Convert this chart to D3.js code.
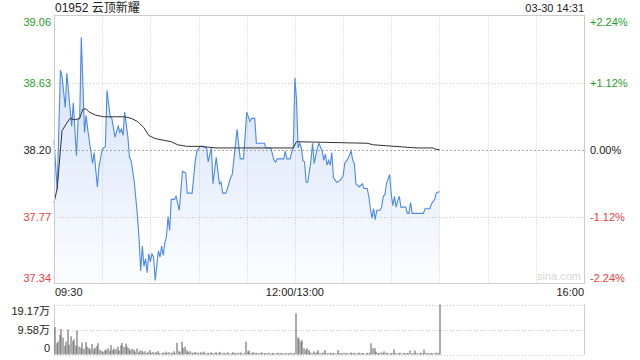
<!DOCTYPE html>
<html>
<head>
<meta charset="utf-8">
<script src="https://cdn.jsdelivr.net/npm/d3@7"></script>
<style>
  body { margin: 0; background: #fff; }
  text { font-family: "Liberation Sans", Arial, "Noto Sans CJK SC", sans-serif; font-size: 11px; }
</style>
</head>
<body>
<div id="chart"></div>
<script>
var svgWidth = 640;
var svgHeight = 360;

// stock info
var stockTitle = "01952 云顶新耀";
var stampText = "03-30 14:31";
var prevClose = 38.20;

// price axis labels
var priceTicks = [39.06, 38.63, 38.20, 37.77, 37.34];
var pctTicks = ["+2.24%", "+1.12%", "0.00%", "-1.12%", "-2.24%"];
var timeLabels = ["09:30", "12:00/13:00", "16:00"];
var timeLabelMinutes = [0, 150, 330];
var volTicks = [19.17, 9.58, 0];
var volTickLabels = ["19.17万", "9.58万", "0"];

// price line, minute index from 09:30 (lunch break removed)
var priceMinutes = [0, 2, 4, 5, 7, 8, 11, 12, 14, 15, 16, 17, 19, 20, 21, 24, 25, 27, 28, 30,
  32, 33, 35, 36, 38, 40, 41, 42, 43, 44, 46, 47, 48, 50, 52, 53, 54, 55, 56, 57,
  58, 59, 60, 61, 62, 63, 65, 66, 67, 68, 69, 70, 71, 72, 73, 75, 76, 78, 80, 82,
  83, 86, 88, 89, 91, 93, 95, 96, 98, 99, 101, 103, 104, 105, 107, 108, 110, 111, 113, 114,
  115, 116, 118, 120, 122, 123, 125, 126, 131, 132, 135, 137, 138, 139, 143, 144, 145, 147, 148, 149,
  150, 151, 152, 153, 154, 155, 156, 157, 158, 160, 161, 162, 164, 165, 167, 168, 169, 170, 171, 172,
  173, 174, 176, 178, 180, 181, 183, 185, 186, 187, 188, 190, 192, 193, 195, 196, 197, 198, 199, 200,
  201, 203, 204, 205, 206, 207, 209, 210, 211, 212, 213, 214, 215, 216, 219, 220, 221, 222, 223, 230,
  231, 234, 235, 237, 238, 240];
var prices = [38.26, 37.94, 38.71, 38.67, 38.47, 38.69, 38.35, 38.50, 38.16, 38.39, 38.40, 38.92, 38.31, 38.42, 38.33, 38.11, 38.18, 37.96, 38.09, 38.20,
  38.22, 38.58, 38.41, 38.40, 38.28, 38.35, 38.31, 38.33, 38.29, 38.44, 38.28, 38.15, 38.13, 37.99, 37.77, 37.62, 37.42, 37.58, 37.45, 37.50,
  37.41, 37.53, 37.48, 37.53, 37.51, 37.36, 37.55, 37.51, 37.58, 37.52, 37.60, 37.64, 37.77, 37.68, 37.88, 37.88, 37.90, 37.81, 38.06, 38.05,
  37.92, 37.92, 38.13, 38.19, 38.22, 38.22, 38.21, 38.12, 38.21, 37.98, 38.15, 37.98, 37.99, 37.92, 37.92, 37.95, 38.02, 38.04, 38.23, 38.33,
  38.23, 38.14, 38.14, 38.44, 38.38, 38.40, 38.40, 38.24, 38.24, 38.21, 38.21, 38.13, 38.12, 38.14, 38.14, 38.19, 38.14, 38.14, 38.18, 38.21,
  38.66, 38.52, 38.21, 38.24, 38.21, 38.13, 38.12, 37.99, 37.99, 38.13, 38.24, 38.11, 38.21, 38.24, 38.19, 38.13, 38.17, 38.10, 38.13, 38.10,
  38.18, 38.02, 37.99, 38.00, 38.03, 38.11, 38.14, 38.19, 38.13, 38.11, 37.98, 37.96, 37.98, 37.95, 37.95, 37.90, 37.82, 37.76, 37.82, 37.75,
  37.81, 37.81, 37.83, 37.90, 37.91, 37.98, 38.04, 37.91, 37.84, 37.90, 37.83, 37.87, 37.90, 37.83, 37.83, 37.79, 37.79, 37.86, 37.79, 37.79,
  37.82, 37.82, 37.85, 37.88, 37.92, 37.93];

// average price line
var avgMinutes = [0, 2, 5, 8, 10, 13, 16, 18, 20, 22, 26, 31, 39, 44, 48, 52, 56, 59, 63, 68,
  73, 77, 83, 91, 101, 149, 151, 195, 199, 226, 236, 238, 240];
var avgPrices = [37.86, 37.95, 38.32, 38.37, 38.40, 38.39, 38.40, 38.46, 38.46, 38.44, 38.42, 38.41, 38.41, 38.41, 38.40, 38.38, 38.34, 38.29, 38.27, 38.26,
  38.25, 38.23, 38.22, 38.22, 38.21, 38.21, 38.25, 38.24, 38.23, 38.21, 38.21, 38.20, 38.20];

// volume per minute, in 万 shares
var volumes = [10.5, 4.3, 5.0, 7.5, 9.8, 6.5, 3.3, 4.9, 9.6, 3.8,
  7.0, 5.2, 5.8, 3.4, 9.2, 3.0, 2.6, 4.6, 2.2, 4.8,
  3.0, 2.5, 2.0, 4.0, 2.0, 2.6, 3.2, 4.3, 1.8, 1.4,
  0.9, 1.6, 1.9, 2.4, 1.5, 3.6, 1.7, 2.3, 2.0, 3.0,
  1.6, 3.5, 4.4, 2.9, 4.2, 3.0, 2.4, 1.6, 2.2, 1.9,
  1.1, 2.3, 0.8, 1.6, 1.4, 0.8, 1.2, 0.6, 0.9, 1.7,
  0.7, 1.0, 0.5, 0.9, 1.3, 0.6, 0.4, 0.8, 0.5, 1.1,
  0.6, 0.9, 0.4, 0.7, 1.2, 0.5, 4.5, 1.3, 0.8, 4.9,
  2.5, 3.0, 1.6, 0.9, 1.2, 0.7, 0.6, 1.0, 0.5, 0.8,
  0.4, 0.9, 0.6, 1.1, 0.5, 0.7, 0.4, 0.8, 0.6, 0.5,
  0.9, 0.4, 0.6, 1.0, 0.5, 0.7, 0.3, 0.6, 0.8, 0.4,
  0.5, 0.9, 0.6, 0.4, 0.7, 0.5, 0.8, 0.4, 0.6, 4.9,
  1.2, 1.5, 0.6, 0.9, 0.5, 0.7, 0.4, 0.6, 0.5, 0.8,
  0.4, 0.6, 0.5, 0.7, 0.3, 0.5, 0.6, 0.4, 0.5, 0.7,
  0.4, 0.6, 0.5, 0.3, 0.6, 0.4, 0.5, 0.7, 0.4, 0.6,
  15.8, 6.6, 6.0, 4.9, 5.5, 2.4, 1.7, 2.4, 1.7, 0.8,
  0.6, 1.2, 0.5, 0.9, 1.7, 0.6, 0.4, 0.8, 1.7, 0.5,
  0.6, 0.4, 0.7, 0.5, 0.6, 0.4, 1.7, 0.5, 0.6, 0.4,
  0.7, 0.5, 0.6, 0.4, 0.8, 0.5, 0.6, 0.4, 0.5, 0.7,
  0.4, 0.6, 0.5, 0.3, 0.6, 0.5, 0.7, 4.3, 2.4, 2.4,
  1.0, 0.6, 0.5, 0.8, 0.6, 1.2, 0.5, 0.7, 0.4, 0.6,
  0.5, 2.0, 0.6, 0.4, 0.5, 0.7, 0.4, 0.6, 0.5, 0.4,
  0.6, 1.5, 0.4, 0.5, 1.5, 0.6, 0.4, 0.5, 0.7, 0.4,
  2.0, 0.6, 0.5, 0.4, 0.6, 0.5, 0.4, 0.7, 0.5, 0.6,
  19.17];

var plot = { left: 54, right: 584, top: 15.5, bottom: 283.5 };
var volPlot = { top: 304.5, bottom: 354.5 };
var green = "#1f9e1f";
var red = "#f03c3c";

var svg = d3.select("#chart")
    .append("svg")
    .attr("width", svgWidth)
    .attr("height", svgHeight);

// scales
var xScale = d3.scaleLinear().domain([0, 330]).range([plot.left, plot.right]);
var yScale = d3.scaleLinear().domain([37.34, 39.06]).range([plot.bottom, plot.top]);
var volScale = d3.scaleLinear().domain([0, 19.17]).range([volPlot.bottom, volPlot.top]);

var priceData = priceMinutes.map((m, i) => ({ m: m, p: prices[i] }));
var avgData = avgMinutes.map((m, i) => ({ m: m, p: avgPrices[i] }));

// gradient under the price line
var grad = svg.append("defs").append("linearGradient")
    .attr("id", "fillGrad")
    .attr("gradientUnits", "userSpaceOnUse")
    .attr("x1", 0).attr("y1", plot.top)
    .attr("x2", 0).attr("y2", plot.bottom);
grad.append("stop").attr("offset", "0%").attr("stop-color", "#5b8fe6").attr("stop-opacity", 0.3);
grad.append("stop").attr("offset", "100%").attr("stop-color", "#5b8fe6").attr("stop-opacity", 0.02);

// grid lines
var gridMinutes = d3.range(30, 330, 30);
svg.append("g").selectAll("line")
    .data(gridMinutes)
    .enter()
    .append("line")
    .attr("x1", d => Math.round(xScale(d)) + 0.5)
    .attr("x2", d => Math.round(xScale(d)) + 0.5)
    .attr("y1", plot.top)
    .attr("y2", plot.bottom)
    .attr("stroke", "#cfcfcf")
    .attr("stroke-dasharray", "1,2");

svg.append("g").selectAll("line")
    .data([priceTicks[1], priceTicks[3]])
    .enter()
    .append("line")
    .attr("x1", plot.left)
    .attr("x2", plot.right)
    .attr("y1", d => Math.round(yScale(d)) + 0.5)
    .attr("y2", d => Math.round(yScale(d)) + 0.5)
    .attr("stroke", "#cfcfcf")
    .attr("stroke-dasharray", "1,2");

// area + lines
var area = d3.area()
    .x(d => xScale(d.m))
    .y0(plot.bottom)
    .y1(d => yScale(d.p));
svg.append("path")
    .datum(priceData)
    .attr("d", area)
    .attr("fill", "url(#fillGrad)");

svg.append("line")
    .attr("x1", plot.left)
    .attr("x2", plot.right)
    .attr("y1", Math.round(yScale(prevClose)) + 0.5)
    .attr("y2", Math.round(yScale(prevClose)) + 0.5)
    .attr("stroke", "#a8a8a8")
    .attr("stroke-dasharray", "2,2");

var line = d3.line()
    .x(d => xScale(d.m))
    .y(d => yScale(d.p));
svg.append("path")
    .datum(priceData)
    .attr("d", line)
    .attr("fill", "none")
    .attr("stroke", "#4a88ee")
    .attr("stroke-width", 1.1);

svg.append("path")
    .datum(avgData)
    .attr("d", line)
    .attr("fill", "none")
    .attr("stroke", "#333")
    .attr("stroke-width", 1);

// frame
svg.append("rect")
    .attr("x", plot.left + 0.5)
    .attr("y", plot.top)
    .attr("width", plot.right - plot.left)
    .attr("height", plot.bottom - plot.top)
    .attr("fill", "none")
    .attr("stroke", "#cccccc");

svg.append("text")
    .attr("x", 581)
    .attr("y", 280)
    .attr("text-anchor", "end")
    .attr("fill", "#d8d8d8")
    .text("sina.com");

// price labels
svg.append("g").selectAll("text")
    .data(priceTicks)
    .enter()
    .append("text")
    .attr("x", 51)
    .attr("y", (d, i) => i === 0 ? yScale(d) + 10 : (i === 4 ? yScale(d) - 2 : yScale(d) + 4))
    .attr("text-anchor", "end")
    .attr("fill", d => d > prevClose ? green : (d < prevClose ? red : "#222"))
    .text(d => d.toFixed(2));

svg.append("g").selectAll("text")
    .data(pctTicks)
    .enter()
    .append("text")
    .attr("x", 590)
    .attr("y", (d, i) => i === 0 ? yScale(priceTicks[i]) + 10 : (i === 4 ? yScale(priceTicks[i]) - 2 : yScale(priceTicks[i]) + 4))
    .attr("fill", (d, i) => i < 2 ? green : (i > 2 ? red : "#222"))
    .text(d => d);

// time labels
svg.append("g").selectAll("text")
    .data(timeLabels)
    .enter()
    .append("text")
    .attr("x", (d, i) => xScale(timeLabelMinutes[i]) + (i === 0 ? 1 : 0))
    .attr("y", 296)
    .attr("text-anchor", (d, i) => ["start", "middle", "end"][i])
    .attr("fill", "#222")
    .text(d => d);

// title
svg.append("text")
    .attr("x", 55)
    .attr("y", 12)
    .attr("fill", "#222")
    .style("font-size", "12px")
    .text(stockTitle);

svg.append("text")
    .attr("x", 584)
    .attr("y", 12)
    .attr("text-anchor", "end")
    .attr("fill", "#222")
    .text(stampText);

// volume chart
svg.append("g").selectAll("line")
    .data(volTicks)
    .enter()
    .append("line")
    .attr("x1", plot.left)
    .attr("x2", plot.right)
    .attr("y1", d => Math.round(volScale(d)) + 0.5)
    .attr("y2", d => Math.round(volScale(d)) + 0.5)
    .attr("stroke", "#cfcfcf")
    .attr("stroke-dasharray", "1,2");

svg.append("g").selectAll("line")
    .data([plot.left + 0.5, plot.right + 0.5])
    .enter()
    .append("line")
    .attr("x1", d => d)
    .attr("x2", d => d)
    .attr("y1", volPlot.top)
    .attr("y2", volPlot.bottom)
    .attr("stroke", "#cccccc");

svg.append("g").selectAll("rect")
    .data(volumes)
    .enter()
    .append("rect")
    .attr("x", (d, i) => Math.round(xScale(i)) + 0.5)
    .attr("y", d => volScale(d))
    .attr("width", 1)
    .attr("height", d => volPlot.bottom - volScale(d))
    .attr("fill", "#5a5a5a");

svg.append("g").selectAll("text")
    .data(volTickLabels)
    .enter()
    .append("text")
    .attr("x", 50)
    .attr("y", (d, i) => i === 0 ? volScale(volTicks[i]) + 10.5 : (i === 2 ? volScale(volTicks[i]) - 3 : volScale(volTicks[i]) + 4))
    .attr("text-anchor", "end")
    .attr("fill", "#222")
    .text(d => d);
</script>
</body>
</html>
